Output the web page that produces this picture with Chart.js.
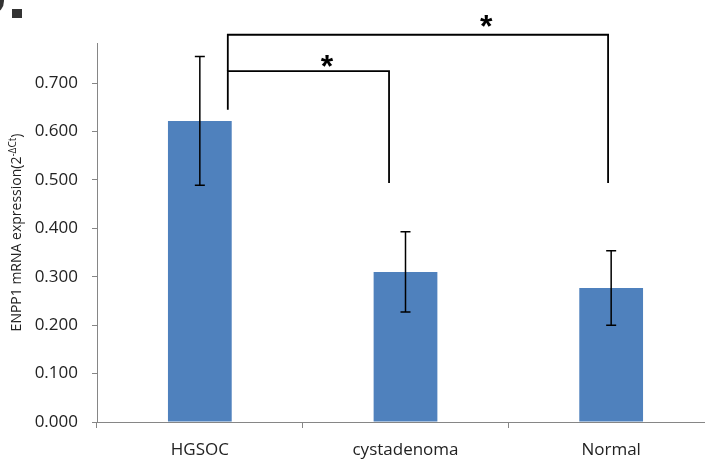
<!DOCTYPE html>
<html>
<head>
<meta charset="utf-8">
<script src="https://cdn.jsdelivr.net/npm/chart.js@4"></script>
<style>
  html, body { margin: 0; padding: 0; background: #fff; overflow: hidden; }
  #wrap { width: 705px; height: 460px; overflow: hidden; }
</style>
</head>
<body>
<div id="wrap"><canvas id="chart" width="716" height="460"></canvas></div>
<script>
const categories = ["HGSOC", "cystadenoma", "Normal"];
const meanValues = [0.622, 0.310, 0.277];
const errValues = [0.133, 0.083, 0.077];
const yTicks = [0, 0.1, 0.2, 0.3, 0.4, 0.5, 0.6, 0.7];
const yAxisTitle = "ENPP1 mRNA expression(2";
const yAxisSup = "-\u0394Ct";

// significance brackets, x in category index, y in axis values
const brackets = [
  { x1: 0.136, x2: 0.92, top: 0.725, rightEnd: 0.494, leftEnd: 0.645, starX: 0.618, starY: 0.75 },
  { x1: 0.136, x2: 1.985, top: 0.80, rightEnd: 0.494, leftEnd: 0.725, starX: 1.392, starY: 0.833 }
];

Chart.defaults.font.family = "'Open Sans', sans-serif";
Chart.defaults.color = "#222";

const axisGrey = "#868686";

// error bars on top of each bar
const errorBars = {
  id: "errorBars",
  afterDatasetsDraw(chart) {
    const ctx = chart.ctx;
    const meta = chart.getDatasetMeta(0);
    const y = chart.scales.y;
    ctx.save();
    ctx.strokeStyle = "#000";
    ctx.lineWidth = 1.5;
    meta.data.forEach((bar, i) => {
      const hi = y.getPixelForValue(meanValues[i] + errValues[i]);
      const lo = y.getPixelForValue(meanValues[i] - errValues[i]);
      ctx.beginPath();
      ctx.moveTo(bar.x, hi);
      ctx.lineTo(bar.x, lo);
      ctx.moveTo(bar.x - 5, hi);
      ctx.lineTo(bar.x + 5, hi);
      ctx.moveTo(bar.x - 5, lo);
      ctx.lineTo(bar.x + 5, lo);
      ctx.stroke();
    });
    ctx.restore();
  }
};

// brackets, stars, rotated axis title and the cropped panel letter
const annotations = {
  id: "annotations",
  afterDraw(chart) {
    const ctx = chart.ctx;
    const x = chart.scales.x;
    const y = chart.scales.y;
    ctx.save();
    ctx.strokeStyle = "#000";
    ctx.lineWidth = 1.8;
    brackets.forEach(b => {
      const px1 = x.getPixelForValue(b.x1);
      const px2 = x.getPixelForValue(b.x2);
      const pt = y.getPixelForValue(b.top);
      ctx.beginPath();
      ctx.moveTo(px1, y.getPixelForValue(b.leftEnd));
      ctx.lineTo(px1, pt);
      ctx.lineTo(px2, pt);
      ctx.lineTo(px2, y.getPixelForValue(b.rightEnd));
      ctx.stroke();
      ctx.fillStyle = "#000";
      ctx.font = "bold 32px 'Liberation Sans'";
      ctx.textAlign = "center";
      ctx.textBaseline = "alphabetic";
      ctx.fillText("*", x.getPixelForValue(b.starX), y.getPixelForValue(b.starY) + 18);
    });

    // y axis title with superscript
    const area = chart.chartArea;
    ctx.translate(17, (area.top + area.bottom) / 2);
    ctx.rotate(-Math.PI / 2);
    ctx.fillStyle = "#222";
    ctx.textBaseline = "middle";
    ctx.textAlign = "left";
    ctx.font = "14px 'Open Sans'";
    const w1 = ctx.measureText(yAxisTitle).width;
    const w3 = ctx.measureText(")").width;
    ctx.font = "10px 'Open Sans'";
    const w2 = ctx.measureText(yAxisSup).width;
    let cx = -(w1 + w2 + w3) / 2;
    ctx.font = "14px 'Open Sans'";
    ctx.fillText(yAxisTitle, cx, 0);
    cx += w1;
    ctx.font = "10px 'Open Sans'";
    ctx.fillText(yAxisSup, cx, -4);
    cx += w2;
    ctx.font = "14px 'Open Sans'";
    ctx.fillText(")", cx, 0);
    ctx.restore();

    // cropped panel letter "b." in the top-left corner
    ctx.save();
    ctx.fillStyle = "#333";
    ctx.beginPath();
    ctx.ellipse(-6, 1, 10, 12, 0, 0, Math.PI * 2);
    ctx.fill();
    ctx.fillRect(12, 9, 10, 9);
    ctx.restore();
  }
};

new Chart(document.getElementById("chart"), {
  type: "bar",
  data: {
    labels: categories,
    datasets: [{
      data: meanValues,
      backgroundColor: "#4F81BD",
      borderWidth: 0,
      barPercentage: 0.31,
      categoryPercentage: 1
    }]
  },
  options: {
    responsive: false,
    animation: false,
    events: [],
    layout: { padding: { top: 43, right: 2, left: 0, bottom: 0 } },
    plugins: {
      legend: { display: false },
      tooltip: { enabled: false }
    },
    scales: {
      y: {
        min: 0,
        max: 0.783,
        afterBuildTicks: scale => { scale.ticks = yTicks.map(v => ({ value: v })); },
        afterFit: scale => { scale.width = 97; },
        border: { display: true, color: axisGrey, width: 1 },
        grid: { drawOnChartArea: false, drawTicks: true, tickLength: 5, color: axisGrey },
        ticks: {
          padding: 14,
          font: { size: 17 },
          callback: v => v.toFixed(3)
        }
      },
      x: {
        afterFit: scale => { scale.height = 38; },
        border: { display: true, color: axisGrey, width: 1 },
        grid: { drawOnChartArea: false, drawTicks: true, tickLength: 6, color: axisGrey, offset: true },
        ticks: { padding: 12, font: { size: 17 } }
      }
    }
  },
  plugins: [errorBars, annotations]
});
</script>
</body>
</html>
